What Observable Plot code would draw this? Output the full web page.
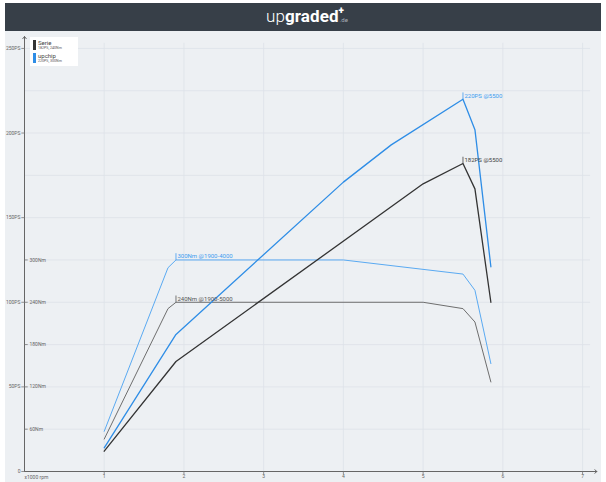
<!DOCTYPE html>
<html>
<head>
<meta charset="utf-8">
<script src="https://cdn.jsdelivr.net/npm/d3@7"></script>
<script src="https://cdn.jsdelivr.net/npm/@observablehq/plot@0.6"></script>
<style>
  html, body { margin: 0; padding: 0; background: #ffffff; font-family: Roboto, "Liberation Sans", sans-serif; }
  #wrap { position: absolute; left: 5px; top: 3px; width: 596px; }
  #header { height: 28px; background: #373f48; position: relative; }
  #logo { position: absolute; left: 8px; right: 0; top: 3px; text-align: center; color: #fff; font-size: 17px; line-height: 20px; letter-spacing: 0.1px; }
  #logo .up { font-weight: 300; }
  #logo .gr { font-weight: 700; }
  #logo .plus { position: absolute; margin-left: 0px; top: -5px; font-size: 10px; font-weight: 900; }
  #logo .de { font-size: 6px; color: #aab0b8; margin-left: 1px; }
  #chart { position: relative; background: #edf0f3; }
  #chart svg { display: block; }
  #legend { position: absolute; left: 25px; top: 6px; width: 48px; height: 29px; background: #ffffff; font-family: Roboto, sans-serif; }
  .sw { position: absolute; left: 3px; width: 3px; height: 10px; }
  .lt { position: absolute; left: 8px; font-size: 6px; color: #444; line-height: 6px; }
  .ls { position: absolute; left: 8px; font-size: 3.6px; color: #555; line-height: 4px; white-space: nowrap; }
</style>
</head>
<body>
<div id="wrap">
  <div id="header"><div id="logo"><span class="up">up</span><span class="gr">graded</span><span class="plus">+</span><span class="de">.de</span></div></div>
  <div id="chart"></div>
</div>
<script>
// ---- data ----
const seriesNames = ["Serie", "upchip"];
const seriesSub = ["182PS, 240Nm", "220PS, 300Nm"];

const seriePowerRpm = [1.0, 1.9, 5.0, 5.5, 5.65, 5.85];
const seriePowerPS  = [12, 65, 170, 182, 167, 100];

const upchipPowerRpm = [1.0, 1.9, 4.0, 4.6, 5.5, 5.65, 5.85];
const upchipPowerPS  = [14, 81, 171, 193, 220, 202, 121];

const serieTorqueRpm = [1.0, 1.8, 1.9, 5.0, 5.5, 5.65, 5.85];
const serieTorqueNm  = [46, 231, 240, 240, 231, 212, 127];

const upchipTorqueRpm = [1.0, 1.8, 1.9, 4.0, 5.5, 5.65, 5.85];
const upchipTorqueNm  = [57, 289, 300, 300, 280, 257, 153];

const xTicks = [1, 2, 3, 4, 5, 6, 7];
const psTicks = [0, 50, 100, 150, 200, 250];
const nmTicks = [60, 120, 180, 240, 300];
const gridY = [0, 25, 50, 75, 100, 125, 150, 175, 200, 225, 250];

const annotations = [
  {x: 1.9, v: 125, text: "300Nm @1900-4000", color: "#3d9cf0"},
  {x: 1.9, v: 100, text: "240Nm @1900-5000", color: "#555555"},
  {x: 5.5, v: 220, text: "220PS @5500", color: "#3d9cf0"},
  {x: 5.5, v: 182, text: "182PS @5500", color: "#444444"}
];

const colors = {serie: "#333333", upchip: "#2e8de6", serieT: "#6e6e6e", upchipT: "#5aaaf2"};

// ---- tables ----
const nmToPs = nm => nm * 100 / 240;
const toRows = (xs, ys) => xs.map((x, i) => ({x, y: ys[i]}));
const serieP = toRows(seriePowerRpm, seriePowerPS);
const upchipP = toRows(upchipPowerRpm, upchipPowerPS);
const serieT = toRows(serieTorqueRpm, serieTorqueNm.map(nmToPs));
const upchipT = toRows(upchipTorqueRpm, upchipTorqueNm.map(nmToPs));

const font = "Roboto, sans-serif";

const plot = Plot.plot({
  width: 596,
  height: 451,
  marginLeft: 19,
  marginRight: 3,
  marginTop: 0,
  marginBottom: 11,
  x: {domain: [0, 7.2], axis: null},
  y: {domain: [0, 260], axis: null},
  style: {background: "transparent", fontFamily: font},
  marks: [
    // grid
    Plot.ruleY(gridY, {x1: 0, x2: 7.1, stroke: "#dde2e8", strokeWidth: 0.8}),
    Plot.ruleX(xTicks, {y1: 0, y2: 253, stroke: "#dde2e8", strokeWidth: 0.8}),
    // axes lines with arrows
    Plot.arrow([0], {x1: 0, y1: 0, x2: 7.18, y2: 0, stroke: "#666", strokeWidth: 1, headLength: 4, headAngle: 80, bend: 0}),
    Plot.arrow([0], {x1: 0, y1: 0, x2: 0, y2: 257, stroke: "#666", strokeWidth: 1, headLength: 4, headAngle: 80, bend: 0}),
    // x ticks and labels
    Plot.link(xTicks, {x1: d => d, x2: d => d, y1: 0, y2: -1.8, stroke: "#777", strokeWidth: 0.8}),
    Plot.text(xTicks, {x: d => d, y: 0, dy: 2.5, text: d => String(d), fontSize: 5, fill: "#666", lineAnchor: "top"}),
    Plot.text(["x1000 rpm"], {x: 0, y: 0, dy: 4, text: d => d, fontSize: 5, fill: "#666", textAnchor: "start", lineAnchor: "top"}),
    // y PS ticks labels
    Plot.text(psTicks, {x: 0, y: d => d, dx: -4, text: d => d === 0 ? "0" : d + "PS", fontSize: 5, fill: "#666", textAnchor: "end"}),
    Plot.link(psTicks, {x1: 0, x2: -0.04, y1: d => d, y2: d => d, stroke: "#777", strokeWidth: 0.8}),
    // torque ticks labels
    Plot.text(nmTicks, {x: 0, y: d => nmToPs(d), dx: 5, text: d => d + "Nm", fontSize: 5, fill: "#666", textAnchor: "start"}),
    Plot.link(nmTicks, {x1: 0, x2: 0.04, y1: d => nmToPs(d), y2: d => nmToPs(d), stroke: "#777", strokeWidth: 0.8}),
    // torque lines
    Plot.line(serieT, {x: "x", y: "y", stroke: colors.serieT, strokeWidth: 1}),
    Plot.line(upchipT, {x: "x", y: "y", stroke: colors.upchipT, strokeWidth: 1}),
    // power lines
    Plot.line(serieP, {x: "x", y: "y", stroke: colors.serie, strokeWidth: 1.3}),
    Plot.line(upchipP, {x: "x", y: "y", stroke: colors.upchip, strokeWidth: 1.3}),
    // annotations
    Plot.link(annotations, {x1: "x", x2: "x", y1: "v", y2: d => d.v + 4, stroke: "color", strokeWidth: 0.8}),
    Plot.text(annotations, {x: "x", y: "v", dx: 1.5, dy: -3.5, text: "text", fill: "color", fontSize: 6, textAnchor: "start"})
  ]
});
document.getElementById("chart").appendChild(plot);

// legend
const legend = document.createElement("div");
legend.id = "legend";
const swColors = [colors.serie, colors.upchip];
seriesNames.forEach((name, i) => {
  const top = 3 + i * 13;
  legend.insertAdjacentHTML("beforeend",
    `<div class="sw" style="top:${top}px;background:${swColors[i]}"></div>` +
    `<div class="lt" style="top:${top}px">${name}</div>` +
    `<div class="ls" style="top:${top + 6}px">${seriesSub[i]}</div>`);
});
document.getElementById("chart").appendChild(legend);
</script>
</body>
</html>
